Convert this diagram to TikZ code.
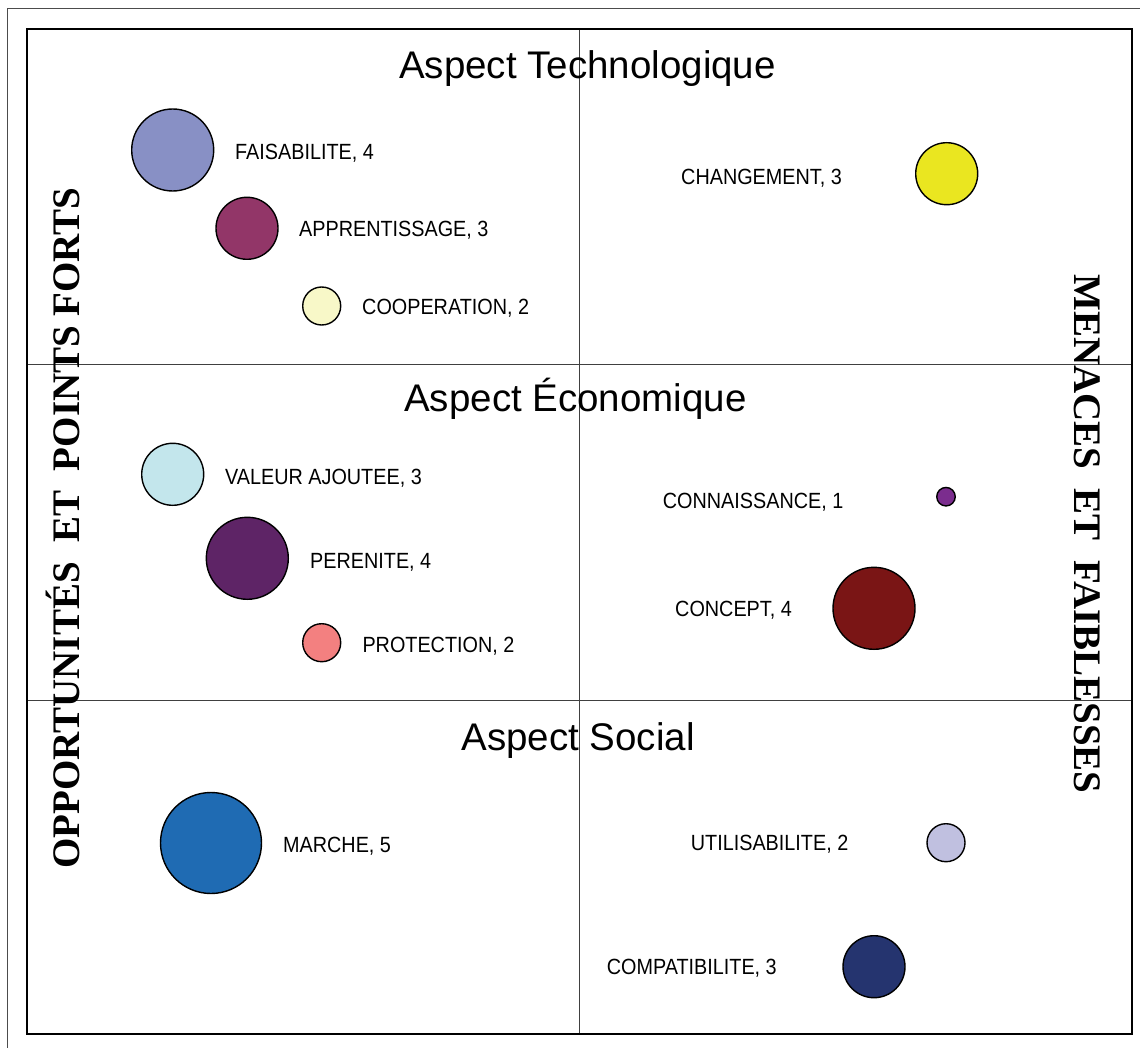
\documentclass[tikz,border=0pt]{standalone}
\usepackage{fontspec}
\setmainfont{Liberation Sans}
\newfontfamily\sidefont{Liberation Serif}
\newcommand{\cnd}[1]{\scalebox{0.9}[1]{#1}}
\definecolor{cFais}{RGB}{136,144,197}
\definecolor{cAppr}{RGB}{146,54,104}
\definecolor{cCoop}{RGB}{248,248,200}
\definecolor{cChang}{RGB}{234,230,32}
\definecolor{cVal}{RGB}{195,230,236}
\definecolor{cPer}{RGB}{94,36,102}
\definecolor{cProt}{RGB}{243,128,128}
\definecolor{cConn}{RGB}{123,45,142}
\definecolor{cConc}{RGB}{122,21,21}
\definecolor{cMarch}{RGB}{31,107,179}
\definecolor{cUtil}{RGB}{192,192,224}
\definecolor{cComp}{RGB}{37,52,111}
\begin{document}
\begin{tikzpicture}[x=1pt,y=-1pt,
  bub/.style={circle, draw=black, line width=1.4pt, inner sep=0pt},
  lab/.style={anchor=base west, inner sep=0pt, font=\fontsize{22}{23}\selectfont},
  ttl/.style={anchor=base, inner sep=0pt, font=\fontsize{38.5}{40}\selectfont},
  side/.style={inner sep=0pt, font=\sidefont\bfseries\fontsize{39}{40}\selectfont},
  grid/.style={draw=black!75, line width=0.8pt},
  frame/.style={draw=black!70, line width=0.8pt}]
\useasboundingbox (0,0) rectangle (1140,1048);
% outer frame (only left and top visible)
\coordinate (o1) at (7.5,1048);
\coordinate (o2) at (7.5,8.5);
\coordinate (o3) at (1140,8.5);
\draw[frame] (o1) -- (o2) -- (o3);
% plot area
\coordinate (tl) at (27,29);
\coordinate (br) at (1132,1034);
\coordinate (h1l) at (27,364);  \coordinate (h1r) at (1132,364);
\coordinate (h2l) at (27,700);  \coordinate (h2r) at (1132,700);
\coordinate (vt) at (579,29);   \coordinate (vb) at (579,1034);
\draw[grid] (h1l) -- (h1r);
\draw[grid] (h2l) -- (h2r);
\draw[grid] (vt) -- (vb);
\draw[black, line width=1.5pt] (tl) rectangle (br);
% titles
\node[ttl] (tTech) at (587.5,79) {Aspect Technologique};
\node[ttl] (tEco) at (575.5,411) {Aspect Économique};
\node[ttl] (tSoc) at (578,750) {Aspect Social};
% side texts
\node[side, rotate=90] (opp) at (63,528) {OPPORTUNITÉS\ \ ET\ \ POINTS FORTS};
\node[side, rotate=-90] (men) at (1087,534) {MENACES\ \ ET\ \ FAIBLESSES};
% bubbles
\node[bub, fill=cFais, minimum size=82pt] (bFais) at (172.7,150) {};
\node[bub, fill=cAppr, minimum size=62pt] (bAppr) at (247,228.3) {};
\node[bub, fill=cCoop, minimum size=38pt] (bCoop) at (321.7,306) {};
\node[bub, fill=cChang, minimum size=62pt] (bChang) at (946.7,173.7) {};
\node[bub, fill=cVal, minimum size=62pt] (bVal) at (172.7,474.3) {};
\node[bub, fill=cPer, minimum size=82pt] (bPer) at (247.3,558.3) {};
\node[bub, fill=cProt, minimum size=38pt] (bProt) at (321.7,642.7) {};
\node[bub, fill=cConn, minimum size=18.5pt] (bConn) at (946,496.7) {};
\node[bub, fill=cConc, minimum size=82pt] (bConc) at (874,608.3) {};
\node[bub, fill=cMarch, minimum size=101pt] (bMarch) at (211,843) {};
\node[bub, fill=cUtil, minimum size=38pt] (bUtil) at (946,842.7) {};
\node[bub, fill=cComp, minimum size=62pt] (bComp) at (874,966.7) {};
% labels
\node[lab] (lFais) at (235,159.5) {\cnd{FAISABILITE, 4}};
\node[lab] (lAppr) at (299,236.5) {\cnd{APPRENTISSAGE, 3}};
\node[lab] (lCoop) at (362,314.5) {\cnd{COOPERATION, 2}};
\node[lab] (lChang) at (681,185) {\cnd{CHANGEMENT, 3}};
\node[lab] (lVal) at (225,484) {\cnd{VALEUR AJOUTEE, 3}};
\node[lab] (lPer) at (310,568.5) {\cnd{PERENITE, 4}};
\node[lab] (lProt) at (362.3,652.5) {\cnd{PROTECTION, 2}};
\node[lab] (lConn) at (662.7,508) {\cnd{CONNAISSANCE, 1}};
\node[lab] (lConc) at (675,616.5) {\cnd{CONCEPT, 4}};
\node[lab] (lMarch) at (283,852.5) {\cnd{MARCHE, 5}};
\node[lab] (lUtil) at (690.7,850.5) {\cnd{UTILISABILITE, 2}};
\node[lab] (lComp) at (606.7,974) {\cnd{COMPATIBILITE, 3}};
\end{tikzpicture}
\end{document}
